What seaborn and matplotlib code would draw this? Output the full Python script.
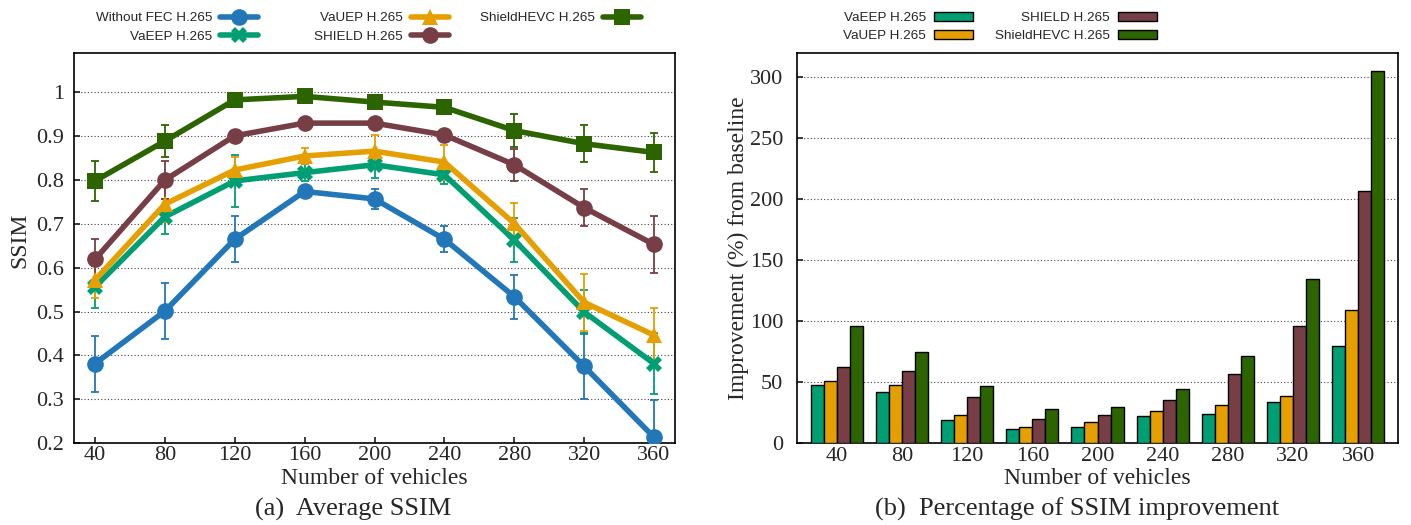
import numpy as np
import pandas as pd
import matplotlib
matplotlib.use("Agg")
import matplotlib.pyplot as plt
import seaborn as sns

# --- data ---
vehicles = [40, 80, 120, 160, 200, 240, 280, 320, 360]

methods_a = ["Without FEC H.265", "VaEEP H.265", "VaUEP H.265", "SHIELD H.265", "ShieldHEVC H.265"]
ssim_nofec = [0.381, 0.501, 0.665, 0.774, 0.757, 0.665, 0.534, 0.375, 0.213]
ssim_vaeep = [0.556, 0.716, 0.798, 0.817, 0.835, 0.812, 0.663, 0.499, 0.381]
ssim_vauep = [0.572, 0.745, 0.823, 0.855, 0.866, 0.841, 0.701, 0.521, 0.446]
ssim_shield = [0.619, 0.800, 0.901, 0.930, 0.930, 0.903, 0.835, 0.737, 0.653]
ssim_shieldhevc = [0.798, 0.889, 0.983, 0.991, 0.978, 0.966, 0.913, 0.883, 0.863]

err_nofec = [0.064, 0.063, 0.053, 0.010, 0.023, 0.030, 0.050, 0.075, 0.084]
err_vaeep = [0.048, 0.040, 0.060, 0.020, 0.030, 0.020, 0.050, 0.050, 0.070]
err_vauep = [0.040, 0.040, 0.030, 0.018, 0.037, 0.040, 0.047, 0.065, 0.063]
err_shield = [0.047, 0.043, 0.010, 0.010, 0.010, 0.010, 0.037, 0.042, 0.065]
err_shieldhevc = [0.046, 0.037, 0.010, 0.008, 0.015, 0.012, 0.038, 0.042, 0.044]

methods_b = ["VaEEP H.265", "VaUEP H.265", "SHIELD H.265", "ShieldHEVC H.265"]
impr_vaeep = [47.4, 42.2, 19.2, 11.8, 12.9, 21.9, 24.1, 33.9, 79.9]
impr_vauep = [50.7, 47.9, 23.3, 13.2, 17.2, 26.0, 30.9, 38.6, 109.5]
impr_shield = [62.7, 59.2, 38.1, 20.0, 23.3, 35.6, 56.9, 96.3, 206.6]
impr_shieldhevc = [95.6, 74.5, 47.1, 28.2, 29.6, 44.6, 71.4, 134.9, 305.1]

colors = {
    "Without FEC H.265": "#2277b8",
    "VaEEP H.265": "#009e73",
    "VaUEP H.265": "#e69f00",
    "SHIELD H.265": "#773f45",
    "ShieldHEVC H.265": "#2c6400",
}
markers = {
    "Without FEC H.265": "o",
    "VaEEP H.265": "X",
    "VaUEP H.265": "^",
    "SHIELD H.265": "o",
    "ShieldHEVC H.265": "s",
}

sns.set_theme(style="ticks")
plt.rcParams["font.family"] = ["Liberation Serif", "DejaVu Serif"]

W, H = 1411, 525
fig = plt.figure(figsize=(W / 100, H / 100), dpi=100)
ax1 = fig.add_axes([74 / W, 82 / H, 601 / W, 390 / H])
ax2 = fig.add_axes([797 / W, 82 / H, 601 / W, 390 / H])

legend_kw = dict(frameon=False, markerfirst=False, borderpad=0, borderaxespad=0,
                 labelspacing=0.45, handletextpad=0.6,
                 prop={"family": "Liberation Sans", "size": 9.7})


def column_legend(handles, labels, right_px, **kw):
    # gnuplot-style key: one column per legend, label left of the sample
    return fig.legend(handles, labels, loc="upper right",
                      bbox_to_anchor=(right_px / W, 1 - 12 / H), **legend_kw, **kw)


# --- (a) average SSIM ---
series_a = [ssim_nofec, ssim_vaeep, ssim_vauep, ssim_shield, ssim_shieldhevc]
errs_a = [err_nofec, err_vaeep, err_vauep, err_shield, err_shieldhevc]
for name, vals, errs in zip(methods_a, series_a, errs_a):
    c = colors[name]
    ax1.errorbar(vehicles, vals, yerr=errs, fmt="none", ecolor=c,
                 elinewidth=1.3, capsize=3, capthick=1.3, zorder=2)
    sns.lineplot(x=vehicles, y=vals, ax=ax1, color=c, marker=markers[name],
                 markersize=12, markeredgewidth=0, linewidth=4, label=name, zorder=3)

ax1.set_xlim(28, 372)
ax1.set_ylim(0.2, 1.09)
ax1.set_xticks(vehicles)
ax1.set_yticks([0.2, 0.3, 0.4, 0.5, 0.6, 0.7, 0.8, 0.9, 1.0])
ax1.set_yticklabels(["0.2", "0.3", "0.4", "0.5", "0.6", "0.7", "0.8", "0.9", "1"])
ax1.yaxis.grid(True, linestyle=(0, (1, 2)), color="#444444", linewidth=0.8)
ax1.set_axisbelow(True)
ax1.tick_params(axis="x", direction="in", length=4, labelsize=16, pad=2)
ax1.tick_params(axis="y", direction="in", length=4, labelsize=16, pad=7)
ax1.set_xlabel("Number of vehicles", fontsize=17)
ax1.xaxis.set_label_coords(0.5, -0.063)
ax1.set_ylabel("SSIM", fontsize=17)
ax1.yaxis.set_label_coords(-0.073, 0.52)
h, l = ax1.get_legend_handles_labels()
ax1.get_legend().remove()
column_legend(h[0:2], l[0:2], 258, handlelength=2.8)
column_legend(h[2:4], l[2:4], 449, handlelength=2.8)
column_legend(h[4:5], l[4:5], 641, handlelength=2.8)

# --- (b) percentage improvement ---
df_b = pd.DataFrame({
    "vehicles": [str(v) for v in vehicles] * 4,
    "method": np.repeat(methods_b, len(vehicles)),
    "improvement": impr_vaeep + impr_vauep + impr_shield + impr_shieldhevc,
})
sns.barplot(data=df_b, x="vehicles", y="improvement", hue="method",
            palette=[colors[m] for m in methods_b], saturation=1, width=0.8,
            edgecolor="black", linewidth=1, ax=ax2, zorder=3)
ax2.set_xlim(-0.61, 8.61)
ax2.set_ylim(0, 320)
ax2.set_yticks([0, 50, 100, 150, 200, 250, 300])
ax2.yaxis.grid(True, linestyle=(0, (1, 2)), color="#444444", linewidth=0.8)
ax2.set_axisbelow(True)
ax2.tick_params(axis="x", length=0, labelsize=16, pad=3)
ax2.tick_params(axis="y", direction="in", length=4, labelsize=16, pad=10)
ax2.set_xlabel("Number of vehicles", fontsize=17)
ax2.xaxis.set_label_coords(0.5, -0.063)
ax2.set_ylabel("Improvement (%) from baseline", fontsize=17)
ax2.yaxis.set_label_coords(-0.080, 0.5)
h, l = ax2.get_legend_handles_labels()
ax2.get_legend().remove()
column_legend(h[0:2], l[0:2], 973, handlelength=2.9, handleheight=0.6)
column_legend(h[2:4], l[2:4], 1157, handlelength=2.9, handleheight=0.6)

for ax in (ax1, ax2):
    for s in ax.spines.values():
        s.set_color("black")
        s.set_linewidth(1.2)

fig.text(353 / W, 1 - 509 / H, "(a)  Average SSIM", ha="center", va="center", fontsize=19)
fig.text(1077 / W, 1 - 509 / H, "(b)  Percentage of SSIM improvement", ha="center", va="center", fontsize=19)

fig.savefig("out.png", dpi=100)
